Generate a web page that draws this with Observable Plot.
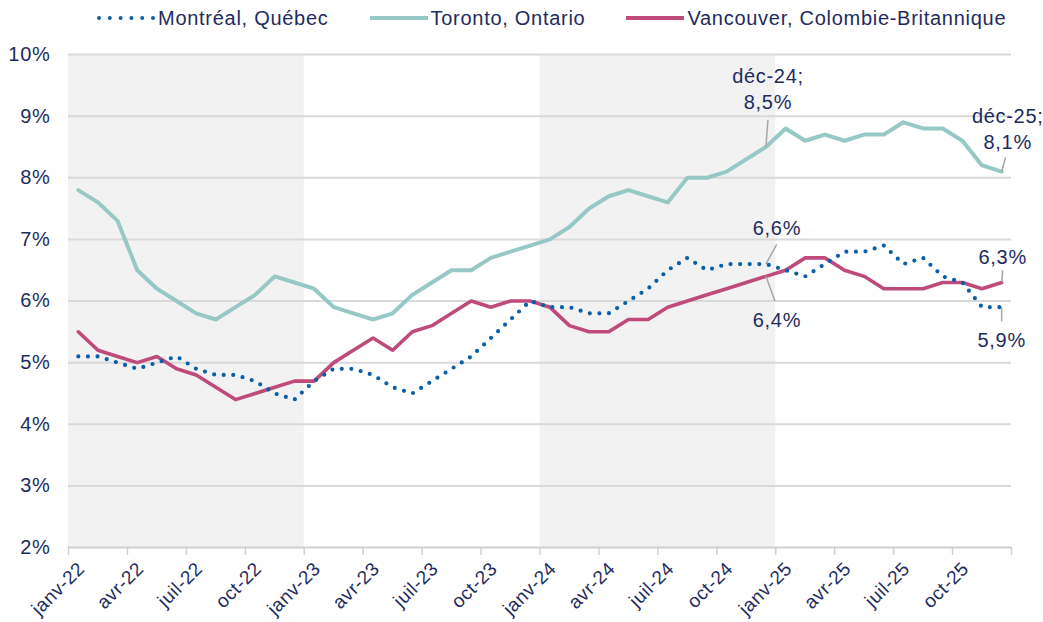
<!DOCTYPE html>
<html>
<head>
<meta charset="utf-8">
<script src="https://cdn.jsdelivr.net/npm/d3@7"></script>
<script src="https://cdn.jsdelivr.net/npm/@observablehq/plot@0.6"></script>
<style>
  html, body { margin: 0; padding: 0; background: #fff; }
  body { width: 1043px; height: 622px; overflow: hidden; font-family: "Liberation Sans", Arial, sans-serif; color: #1e2b5e; }
  #legend { height: 36px; display: flex; align-items: center; padding-left: 97px; font-size: 20px; letter-spacing: 0.72px; white-space: nowrap; }
  #legend .item { display: flex; align-items: center; margin-right: 41px; flex-shrink: 0; white-space: nowrap; }
  #legend svg { margin-right: 3px; flex-shrink: 0; }
  #chart svg text { letter-spacing: 0.7px; }
  #chart svg g.xlab text { letter-spacing: 0.5px; }
</style>
</head>
<body>
<div id="legend"></div>
<div id="chart"></div>
<script>
// ---- Data ----
const monthNames = ["janv","févr","mars","avr","mai","juin","juil","août","sept","oct","nov","déc"];
const years = ["22","23","24","25"];
const tickLabels = ["janv-22","avr-22","juil-22","oct-22","janv-23","avr-23","juil-23","oct-23","janv-24","avr-24","juil-24","oct-24","janv-25","avr-25","juil-25","oct-25"];
const yTicks = [2,3,4,5,6,7,8,9,10];

const seriesNames = ["Montréal, Québec","Toronto, Ontario","Vancouver, Colombie-Britannique"];
const seriesColors = ["#0b5fa8","#96c9c6","#be4b7c"];

const montreal = [5.1,5.1,5.0,4.9,5.0,5.1,4.9,4.8,4.8,4.7,4.5,4.4,
                  4.7,4.9,4.9,4.8,4.6,4.5,4.7,4.9,5.1,5.4,5.7,6.0,
                  5.9,5.9,5.8,5.8,6.0,6.2,6.5,6.7,6.5,6.6,6.6,6.6,
                  6.5,6.4,6.6,6.8,6.8,6.9,6.6,6.7,6.4,6.3,5.9,5.9];
const toronto  = [7.8,7.6,7.3,6.5,6.2,6.0,5.8,5.7,5.9,6.1,6.4,6.3,
                  6.2,5.9,5.8,5.7,5.8,6.1,6.3,6.5,6.5,6.7,6.8,6.9,
                  7.0,7.2,7.5,7.7,7.8,7.7,7.6,8.0,8.0,8.1,8.3,8.5,
                  8.8,8.6,8.7,8.6,8.7,8.7,8.9,8.8,8.8,8.6,8.2,8.1];
const vancouver= [5.5,5.2,5.1,5.0,5.1,4.9,4.8,4.6,4.4,4.5,4.6,4.7,
                  4.7,5.0,5.2,5.4,5.2,5.5,5.6,5.8,6.0,5.9,6.0,6.0,
                  5.9,5.6,5.5,5.5,5.7,5.7,5.9,6.0,6.1,6.2,6.3,6.4,
                  6.5,6.7,6.7,6.5,6.4,6.2,6.2,6.2,6.3,6.3,6.2,6.3];

// shaded periods (first and last month labels)
const shadeStart = ["janv-22","janv-24"];
const shadeEnd   = ["déc-22","déc-24"];

// annotations: series, month label, text
const annSeries = ["Toronto, Ontario","Toronto, Ontario","Montréal, Québec","Vancouver, Colombie-Britannique","Vancouver, Colombie-Britannique","Montréal, Québec"];
const annMonth  = ["déc-24","déc-25","déc-24","déc-24","déc-25","déc-25"];
const annText   = ["déc-24;\n8,5%","déc-25;\n8,1%","6,6%","6,4%","6,3%","5,9%"];

// ---- Build tables ----
const monthLabels = years.flatMap(y => monthNames.map(m => `${m}-${y}`));
const valuesBy = {"Montréal, Québec": montreal, "Toronto, Ontario": toronto, "Vancouver, Colombie-Britannique": vancouver};
const rows = name => valuesBy[name].map((v, i) => ({i, v, name, month: monthLabels[i]}));
const tickPos = tickLabels.map(l => monthLabels.indexOf(l) - 0.5).concat([monthLabels.length - 0.5]);
const tickText = new Map(tickLabels.map(l => [monthLabels.indexOf(l) - 0.5, l]));
const shades = shadeStart.map((s, k) => ({x1: monthLabels.indexOf(s) - 0.5, x2: monthLabels.indexOf(shadeEnd[k]) + 0.5}));

// annotation layout (pixel offsets for text, data-unit offsets for leaders)
const annLayout = [
  {dx: 2,  dy: -59, lx: 0.1,  ly: 0.44},
  {dx: 6,  dy: -44, lx: 0.2,  ly: 0.23},
  {dx: 11, dy: -37, lx: 0.55, ly: 0.32},
  {dx: 11, dy: 42,  lx: 0.46, ly: -0.40},
  {dx: 1,  dy: -27, lx: 0.05, ly: 0.20},
  {dx: 0,  dy: 32,  lx: 0.0,  ly: -0.23}
];
const anns = annText.map((t, k) => {
  const i = monthLabels.indexOf(annMonth[k]);
  return {text: t, i, v: valuesBy[annSeries[k]][i], ...annLayout[k]};
});

// ---- Legend ----
const legend = document.getElementById("legend");
seriesNames.forEach((n, k) => {
  const item = document.createElement("div");
  item.className = "item";
  const dash = k === 0 ? 'stroke-dasharray="0 10.8" stroke-linecap="round" stroke-width="4"' : 'stroke-width="4"';
  item.innerHTML = `<svg width="58" height="10"><line x1="${k===0?2:0}" y1="5" x2="${k===0?57:58}" y2="5" stroke="${seriesColors[k]}" ${dash}/></svg><span>${n}</span>`;
  legend.appendChild(item);
});

// ---- Chart ----
const textColor = "#1e2b5e";
const chart = Plot.plot({
  width: 1043,
  height: 586,
  marginTop: 18,
  marginBottom: 75,
  marginLeft: 68,
  marginRight: 32,
  style: {fontFamily: "'Liberation Sans', Arial, sans-serif", fontSize: "20px", color: textColor, background: "#fff"},
  x: {type: "linear", domain: [-0.5, monthLabels.length - 0.5]},
  y: {domain: [2, 10]},
  marks: [
    Plot.rect(shades, {x1: "x1", x2: "x2", y1: 2, y2: 10, fill: "#f2f2f2"}),
    Plot.ruleY(yTicks.slice(1), {stroke: "#d9d9d9", strokeWidth: 2}),
    Plot.ruleY([2], {stroke: "#d0d0d0", strokeWidth: 2}),
    Plot.axisY({ticks: yTicks, tickFormat: d => d + "%", tickSize: 0, tickPadding: 18, fill: textColor, fontSize: 20, label: null}),
    Plot.axisX({ticks: tickPos, tickFormat: null, text: null, tickSize: 8, stroke: "#d0d0d0", strokeWidth: 1.5, label: null}),
    Plot.axisX({ticks: tickPos, tickFormat: d => tickText.get(d) ?? "", tickRotate: -45, tickSize: 0, tickPadding: 10, dx: 13, dy: 8, fill: textColor, fontSize: 19, label: null, className: "xlab"}),
    Plot.line(rows("Toronto, Ontario"), {x: "i", y: "v", stroke: seriesColors[1], strokeWidth: 4, strokeLinejoin: "round"}),
    Plot.line(rows("Vancouver, Colombie-Britannique"), {x: "i", y: "v", stroke: seriesColors[2], strokeWidth: 3.6, strokeLinejoin: "round"}),
    Plot.line(rows("Montréal, Québec"), {x: "i", y: "v", stroke: seriesColors[0], strokeWidth: 4.2, strokeDasharray: "0 9.6", strokeLinecap: "round"}),
    Plot.link(anns, {x1: "i", y1: "v", x2: d => d.i + d.lx, y2: d => d.v + d.ly, stroke: "#a6a6a6", strokeWidth: 1.5}),
    Plot.text(anns, {x: "i", y: "v", text: "text", fill: textColor, fontSize: 20, lineHeight: 1.3, lineAnchor: "middle", textAnchor: "middle",
      render: (index, scales, values, dims, ctx, next) => {
        const g = next(index, scales, values, dims, ctx);
        d3.select(g).selectAll("text").each(function(_, j) {
          const a = anns[index[j]];
          const t = d3.select(this);
          const tr = t.attr("transform") || "";
          t.attr("transform", tr + ` translate(${a.dx},${a.dy})`);
        });
        return g;
      }})
  ]
});
document.getElementById("chart").appendChild(chart);
</script>
</body>
</html>
